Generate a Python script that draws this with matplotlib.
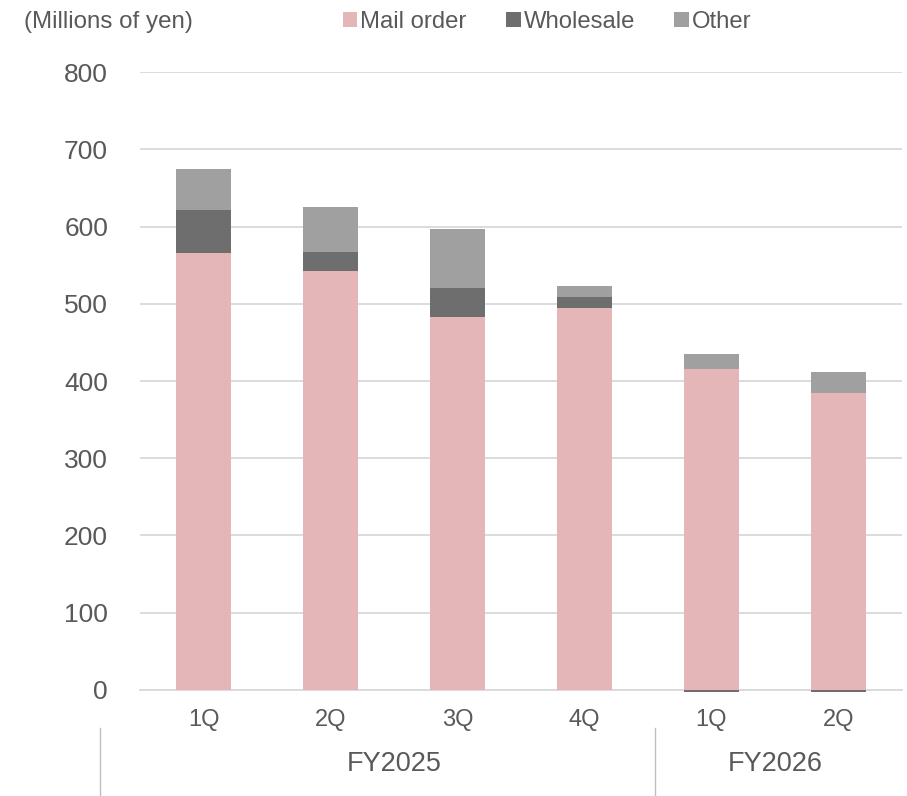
import numpy as np
import matplotlib.pyplot as plt
from matplotlib.lines import Line2D

plt.rcParams['font.family'] = ['Liberation Sans', 'DejaVu Sans']

# quarterly sales by channel (millions of yen)
quarters = ['1Q', '2Q', '3Q', '4Q', '1Q', '2Q']
years = ['FY2025', 'FY2026']
year_sizes = [4, 2]
mail_order = [566, 542, 483, 495, 416, 385]
wholesale = [56, 25, 38, 14, -2, -2]
other = [52, 58, 76, 14, 19, 27]

c_mail = '#E4B6B8'
c_whole = '#6E6E6E'
c_other = '#A0A0A0'
txt = '#595959'

fig = plt.figure(figsize=(9.07, 7.96), dpi=100)
ax = fig.add_axes([0.1544, 0.1332, 0.84, 0.7763])

x = np.arange(len(quarters))
mail = np.array(mail_order)
whole = np.array(wholesale)
oth = np.array(other)

# positives stack upward, negatives go below zero
whole_pos = np.where(whole > 0, whole, 0)
whole_neg = np.where(whole < 0, whole, 0)
w = 0.43
ax.bar(x, mail, w, color=c_mail, label='Mail order', zorder=3, clip_on=False)
ax.bar(x, whole_pos, w, bottom=mail, color=c_whole, label='Wholesale', zorder=3)
ax.bar(x, whole_neg, w, color=c_whole, zorder=3, clip_on=False)
ax.bar(x, oth, w, bottom=mail + whole_pos, color=c_other, label='Other', zorder=3)

ax.set_ylim(0, 800)
ax.set_xlim(-0.5, len(quarters) - 0.5)
ax.set_yticks(range(0, 801, 100))
ax.yaxis.grid(True, color='#D9D9D9', lw=1.3, zorder=0)
ax.set_axisbelow(True)
for s in ['left', 'right', 'top']:
    ax.spines[s].set_visible(False)
ax.spines['bottom'].set_color('#D9D9D9')
ax.spines['bottom'].set_linewidth(1.3)
ax.tick_params(axis='y', length=0, labelsize=19, labelcolor=txt, pad=23)
ax.set_xticks(x)
ax.set_xticklabels(quarters)
ax.tick_params(axis='x', length=0, labelsize=17, labelcolor=txt, pad=14)

# fiscal year row under the quarter labels
start = 0
for yr, n in zip(years, year_sizes):
    mid = start + (n - 1) / 2
    ax.text(mid, -0.1197, yr, transform=ax.get_xaxis_transform(), ha='center',
            va='center', fontsize=19.5, color=txt)
    start += n
for xf in [100 / 907, 655 / 907]:
    fig.add_artist(Line2D([xf, xf], [0, 1 - 728 / 796], color='#BFBFBF', lw=1))

fig.text(24 / 907, 1 - 22 / 796, '(Millions of yen)', fontsize=17.4, color=txt,
         va='center', ha='left')
fig.legend(loc='center left', bbox_to_anchor=(343 / 907, 1 - 22 / 796), ncol=3,
           frameon=False, fontsize=17.2, labelcolor=txt, borderpad=0,
           borderaxespad=0, handlelength=0.6, handleheight=0.6,
           handletextpad=0.13, columnspacing=1.65)

fig.savefig('out.png', dpi=100)
